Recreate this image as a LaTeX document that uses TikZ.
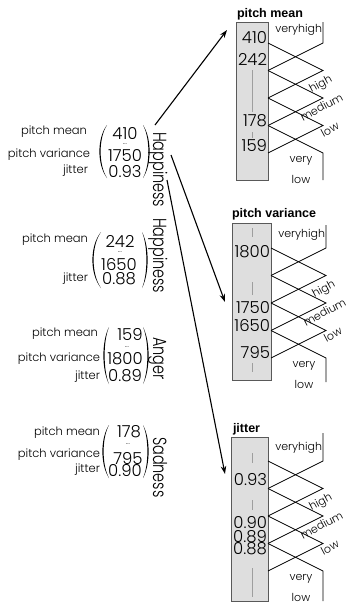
\documentclass[tikz,border=0pt]{standalone}
\usepackage{fontspec}
\usepackage{graphicx}
\IfFontExistsTF{Poppins Light}{\setmainfont{Poppins Light}}{\setmainfont{Poppins}}
\newfontfamily\headfont{Liberation Sans}
\usetikzlibrary{arrows.meta,calc}

\definecolor{boxfill}{gray}{0.87}
\definecolor{boxline}{gray}{0.35}
\definecolor{tickgray}{gray}{0.62}

\tikzset{
  txt/.style={inner sep=0pt, outer sep=0pt},
  lab/.style={txt, anchor=mid east, font=\fontsize{11.5}{12}\selectfont},
  num/.style={txt, anchor=center, font=\fontsize{16.5}{16.5}\selectfont},
  pnum/.style={txt, anchor=east, font=\fontsize{16.5}{16.5}\selectfont},
  dots/.style={txt, anchor=center, font=\fontsize{7}{7}\selectfont},
  emo/.style={txt, anchor=base west, rotate=-90, font=\fontsize{19}{19}\selectfont},
  paneltitle/.style={txt, anchor=base west, font=\headfont\bfseries\fontsize{12.5}{13}\selectfont},
  valbox/.style={draw=boxline, fill=boxfill, line width=0.9pt},
  tickline/.style={draw=tickgray, line width=0.6pt},
  mf/.style={draw=black, line width=0.7pt},
  mflab/.style={txt, font=\fontsize{11}{11}\selectfont},
  link/.style={draw=black, line width=1.1pt, -{Stealth[length=8pt,width=5.5pt]}},
}

% a thin round bracket: ends at x=#1, from y=#2 to y=#3, bulging to x=#4
\newcommand\bracket[4]{%
  \pgfmathsetmacro\bc{(4*#4-#1)/3}%
  \pgfmathsetmacro\ba{#2+0.25*(#3-#2)}%
  \pgfmathsetmacro\bb{#2+0.75*(#3-#2)}%
  \fill (#1,#2) .. controls ({\bc-0.8},\ba) and ({\bc-0.8},\bb) .. (#1,#3)
    .. controls ({\bc+0.8},\bb) and ({\bc+0.8},\ba) .. cycle;}

% five triangular membership functions beside a value column
% #1 left x, #2 peak x, #3 top y, #4 first break y, #5 bottom y, #6 name prefix
\newcommand\mfpanel[6]{%
  \pgfmathsetmacro\lA{#4}%
  \pgfmathsetmacro\lB{#4+27.5}%
  \pgfmathsetmacro\lC{#4+55}%
  \pgfmathsetmacro\lD{#4+82.5}%
  \pgfmathsetmacro\lE{#4+110}%
  \draw[mf] (#2,#3) -- (#2,\lA) -- (#1,\lB);
  \draw[mf] (#1,\lA) -- (#2,\lB) -- (#1,\lC);
  \draw[mf] (#1,\lB) -- (#2,\lC) -- (#1,\lD);
  \draw[mf] (#1,\lC) -- (#2,\lD) -- (#1,\lE);
  \draw[mf] (#1,\lD) -- (#2,\lE) -- (#2,#5);
  \node[mflab, anchor=mid east] (#6-vh) at ({#2-1},{\lA-13}) {veryhigh};
  \node[mflab, rotate=28] (#6-hi) at ({#2-2},{\lB+14}) {high};
  \node[mflab, rotate=28] (#6-me) at ({#2-1.5},{\lC+9}) {medium};
  \node[mflab, rotate=28] (#6-lo) at ({#2+7},{\lD+4}) {low};
  \node[mflab] (#6-vl1) at ({#2-22},{\lE+8}) {very};
  \node[mflab] (#6-vl2) at ({#2-22},{\lE+26.5}) {low};
}

\begin{document}
\begin{tikzpicture}[x=1pt, y=-1pt]
\useasboundingbox (0,0) rectangle (346,605);

% ---------- feature vectors ----------
% Happiness (1)
\node[lab] (a-pm) at (87,132) {pitch mean};
\node[lab] (a-pv) at (90,155) {pitch variance};
\node[lab] (a-ji) at (88,171) {jitter};
\bracket{107}{125}{178}{100}
\bracket{143}{125}{178}{149}
\node[num] (a-v1) at (125,134) {410};
\node[dots] (a-d) at (125,144) {...};
\node[num] (a-v2) at (125,156) {1750};
\node[num] (a-v3) at (125,172) {0.93};
\node[emo] (a-em) at (153,132) {\scalebox{0.76}[1]{Happiness}};

% Happiness (2)
\node[lab] (b-pm) at (88,240) {pitch mean};
\node[lab] (b-ji) at (88,279) {jitter};
\bracket{101}{232}{288}{93}
\bracket{142}{232}{288}{147}
\node[num] (b-v1) at (120,241) {242};
\node[dots] (b-d) at (120,252.5) {...};
\node[num] (b-v2) at (119,264) {1650};
\node[num] (b-v3) at (119,279) {0.88};
\node[emo] (b-em) at (153,218) {\scalebox{0.76}[1]{Happiness}};

% Anger
\node[lab] (c-pm) at (98,334) {pitch mean};
\node[lab] (c-pv) at (100,359) {pitch variance};
\node[lab] (c-ji) at (100,377) {jitter};
\bracket{109}{327}{384}{104}
\bracket{143}{327}{384}{148}
\node[num] (c-v1) at (130,334) {159};
\node[dots] (c-d) at (127,347.5) {...};
\node[num] (c-v2) at (125,359) {1800};
\node[num] (c-v3) at (125,376) {0.89};
\node[emo] (c-em) at (153,337) {\scalebox{0.76}[1]{Anger}};

% Sadness
\node[lab] (d-pm) at (100,433) {pitch mean};
\node[lab] (d-pv) at (100,455) {pitch variance};
\node[lab] (d-ji) at (100,470) {jitter};
\bracket{109}{425}{478}{103}
\bracket{143}{425}{478}{148}
\node[num] (d-v1) at (129,432) {178};
\node[dots] (d-d) at (128,444) {...};
\node[num] (d-v2) at (128,458) {795};
\node[num] (d-v3) at (125,471) {0.90};
\node[emo] (d-em) at (153,437) {\scalebox{0.76}[1]{Sadness}};

% ---------- pitch mean column ----------
\node[paneltitle] (p1-t) at (237,17) {pitch mean};
\draw[valbox] (236,22) rectangle (268,180);
\draw[tickline] (252,70) -- (252,112);
\draw[tickline] (252,132) -- (252,138);
\node[pnum] (p1-a) at (267,37.5) {410};
\node[pnum] (p1-b) at (267,59) {242};
\node[pnum] (p1-c) at (267,121) {178};
\node[pnum] (p1-d) at (267,146) {159};
\mfpanel{268}{323}{22}{43}{180}{p1}

% ---------- pitch variance column ----------
\node[paneltitle] (p2-t) at (232,217) {pitch variance};
\draw[valbox] (232,223) rectangle (271,380);
\draw[tickline] (252,228) -- (252,237);
\draw[tickline] (252,282) -- (252,295);
\draw[tickline] (252,363) -- (252,372);
\node[pnum] (p2-a) at (270,252) {1800};
\node[pnum] (p2-b) at (270,308) {1750};
\node[pnum] (p2-c) at (270,325) {1650};
\node[pnum] (p2-d) at (270,352) {795};
\mfpanel{271}{326}{225}{248}{382}{p2}

% ---------- jitter column ----------
\node[paneltitle] (p3-t) at (233,432) {jitter};
\draw[valbox] (231,437) rectangle (268,601);
\draw[tickline] (252,453) -- (252,463);
\draw[tickline] (252,500) -- (252,510);
\draw[tickline] (252,568) -- (252,597);
\node[pnum] (p3-a) at (267,480) {0.93};
\node[pnum] (p3-b) at (267,523) {0.90};
\node[pnum] (p3-c) at (267,537) {0.89};
\node[pnum] (p3-d) at (267,549) {0.88};
\mfpanel{268}{323}{433}{461}{601}{p3}

% ---------- links from the first vector to the columns ----------
\coordinate (s1) at (155,125);
\coordinate (s2) at (171,155);
\coordinate (s3) at (167,180);
\coordinate (t1) at (227,30);
\coordinate (t2) at (225,302);
\coordinate (t3) at (225,474);
\draw[link] (s1) -- (t1);
\draw[link] (s2) -- (t2);
\draw[link] (s3) -- (t3);
\end{tikzpicture}
\end{document}
